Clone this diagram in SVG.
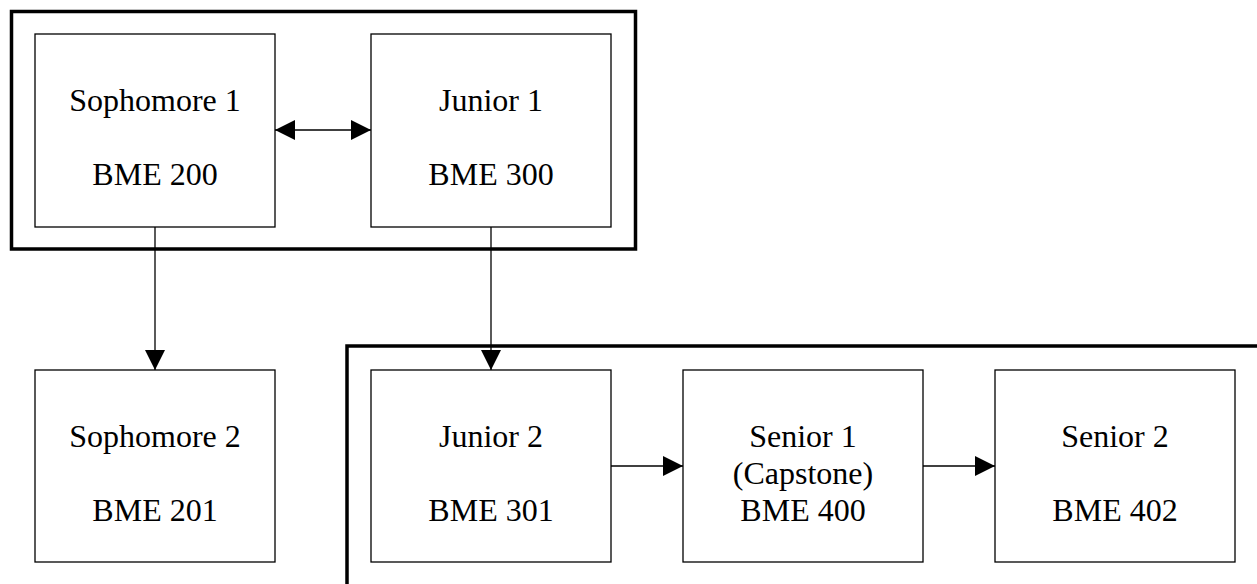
<svg xmlns="http://www.w3.org/2000/svg" width="1257" height="584" viewBox="0 0 1257 584">
<style>
.group{fill:none;stroke:#000;stroke-width:3.5}
.box{fill:#fff;stroke:#000;stroke-width:1.3}
.t{font-family:"Liberation Serif","Times New Roman",serif;font-size:32px;fill:#000;text-anchor:middle}
.c{fill:none;stroke:#000;stroke-width:1.3}
</style>
<defs>
<marker id="ah" viewBox="0 0 20 20" refX="20" refY="10" markerWidth="20" markerHeight="20" markerUnits="userSpaceOnUse" orient="auto-start-reverse">
<path d="M0,0 L20,10 L0,20 Z" fill="#000"/>
</marker>
</defs>
<rect width="1257" height="584" fill="#fff"/>
<g id="containers">
<rect class="group" x="11.5" y="11.5" width="624" height="237.5"/>
<rect class="group" x="347" y="346" width="920" height="250"/>
</g>
<g id="connectors">
<line class="c" x1="275" y1="130" x2="371" y2="130" marker-start="url(#ah)" marker-end="url(#ah)"/>
<line class="c" x1="155" y1="227" x2="155" y2="370" marker-end="url(#ah)"/>
<line class="c" x1="491" y1="227" x2="491" y2="370" marker-end="url(#ah)"/>
<line class="c" x1="611" y1="466" x2="683" y2="466" marker-end="url(#ah)"/>
<line class="c" x1="923" y1="466" x2="995" y2="466" marker-end="url(#ah)"/>
</g>
<g id="soph1">
<rect class="box" x="35" y="34" width="240" height="193"/>
<text class="t" x="155" y="111">Sophomore 1</text>
<text class="t" x="155" y="185">BME 200</text>
</g>
<g id="jr1">
<rect class="box" x="371" y="34" width="240" height="193"/>
<text class="t" x="491" y="111">Junior 1</text>
<text class="t" x="491" y="185">BME 300</text>
</g>
<g id="soph2">
<rect class="box" x="35" y="370" width="240" height="192"/>
<text class="t" x="155" y="447">Sophomore 2</text>
<text class="t" x="155" y="521">BME 201</text>
</g>
<g id="jr2">
<rect class="box" x="371" y="370" width="240" height="192"/>
<text class="t" x="491" y="447">Junior 2</text>
<text class="t" x="491" y="521">BME 301</text>
</g>
<g id="sr1">
<rect class="box" x="683" y="370" width="240" height="192"/>
<text class="t" x="803" y="447">Senior 1</text>
<text class="t" x="803" y="484">(Capstone)</text>
<text class="t" x="803" y="521">BME 400</text>
</g>
<g id="sr2">
<rect class="box" x="995" y="370" width="240" height="192"/>
<text class="t" x="1115" y="447">Senior 2</text>
<text class="t" x="1115" y="521">BME 402</text>
</g>
</svg>
